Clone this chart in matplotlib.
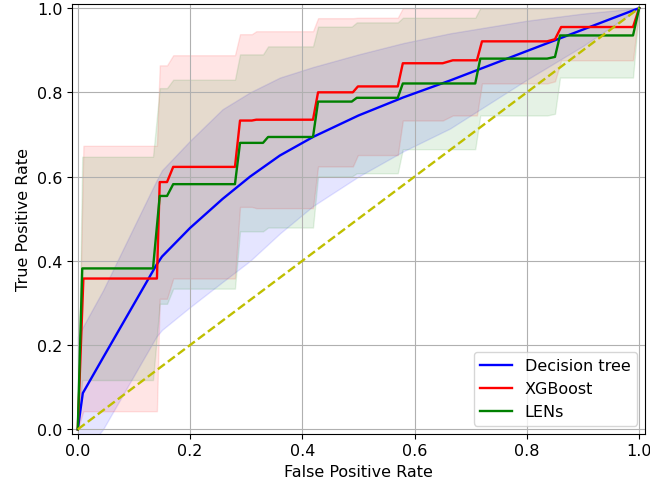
import numpy as np
import matplotlib
matplotlib.use('Agg')
import matplotlib.pyplot as plt

plt.rcParams['font.size'] = 11.5
plt.rcParams['lines.linewidth'] = 1.7

# Decision tree (curva media + banda)
dt_fpr = [0, 0.009, 0.045, 0.14, 0.15, 0.2, 0.258, 0.307, 0.36, 0.419, 0.5, 0.58, 0.663, 0.8, 0.9, 1.0]
dt_tpr = [0, 0.086, 0.17, 0.39, 0.41, 0.478, 0.547, 0.60, 0.65, 0.694, 0.745, 0.788, 0.828, 0.898, 0.949, 1.0]
dt_upper = [0.22, 0.243, 0.33, 0.59, 0.615, 0.685, 0.76, 0.80, 0.835, 0.86, 0.89, 0.917, 0.94, 0.97, 0.987, 1.0]
dt_lower = [-0.08, -0.06, 0.0, 0.22, 0.236, 0.29, 0.35, 0.40, 0.465, 0.53, 0.60, 0.66, 0.714, 0.83, 0.91, 1.0]

# XGBoost
xgb_fpr = [0, 0.01, 0.141, 0.146, 0.159, 0.17, 0.28, 0.289, 0.31, 0.318, 0.419, 0.428,
           0.49, 0.499, 0.57, 0.579, 0.65, 0.668, 0.711, 0.72, 0.836, 0.85, 0.861, 0.989, 1.0]
xgb_tpr = [0, 0.358, 0.358, 0.587, 0.587, 0.623, 0.623, 0.733, 0.733, 0.735, 0.735, 0.80,
           0.80, 0.814, 0.814, 0.869, 0.869, 0.876, 0.876, 0.921, 0.921, 0.926, 0.955, 0.955, 1.0]
xgb_std = [0, 0.315, 0.315, 0.277, 0.277, 0.265, 0.265, 0.205, 0.205, 0.21, 0.21, 0.176,
           0.176, 0.163, 0.163, 0.136, 0.136, 0.131, 0.131, 0.10, 0.10, 0.10, 0.079, 0.079, 0]

# LENs
len_fpr = [0, 0.008, 0.134, 0.146, 0.159, 0.17, 0.28, 0.289, 0.33, 0.339, 0.419, 0.428,
           0.488, 0.497, 0.57, 0.579, 0.708, 0.717, 0.836, 0.85, 0.859, 0.989, 1.0]
len_tpr = [0, 0.382, 0.382, 0.554, 0.554, 0.582, 0.582, 0.68, 0.68, 0.694, 0.694, 0.778,
           0.778, 0.787, 0.787, 0.821, 0.821, 0.88, 0.88, 0.884, 0.935, 0.935, 1.0]
len_std = [0, 0.265, 0.265, 0.256, 0.256, 0.248, 0.248, 0.21, 0.21, 0.215, 0.215, 0.178,
           0.178, 0.179, 0.179, 0.156, 0.156, 0.135, 0.135, 0.135, 0.10, 0.10, 0]

fig, ax = plt.subplots(figsize=(6.5, 4.85), dpi=100)
fig.subplots_adjust(left=0.111, right=0.992, bottom=0.104, top=0.99)

# Bandas
ax.fill_between(dt_fpr, dt_lower, dt_upper, color='b', alpha=0.1)
for fpr, tpr, std, c in [(xgb_fpr, xgb_tpr, xgb_std, 'r'), (len_fpr, len_tpr, len_std, 'g')]:
    tpr = np.array(tpr)
    std = np.array(std)
    ax.fill_between(fpr, np.maximum(tpr - std, 0), np.minimum(tpr + std, 1), color=c, alpha=0.1)

# Curvas
ax.plot(dt_fpr, dt_tpr, 'b', label='Decision tree')
ax.plot(xgb_fpr, xgb_tpr, 'r', label='XGBoost')
ax.plot(len_fpr, len_tpr, 'g', label='LENs')
ax.plot([0, 1], [0, 1], 'y--')

ax.set_xlim(-0.01, 1.01)
ax.set_ylim(-0.01, 1.01)
ax.set_xlabel('False Positive Rate')
ax.set_ylabel('True Positive Rate')
ax.grid(True)
ax.legend(loc='lower right')

plt.savefig('out.png')
